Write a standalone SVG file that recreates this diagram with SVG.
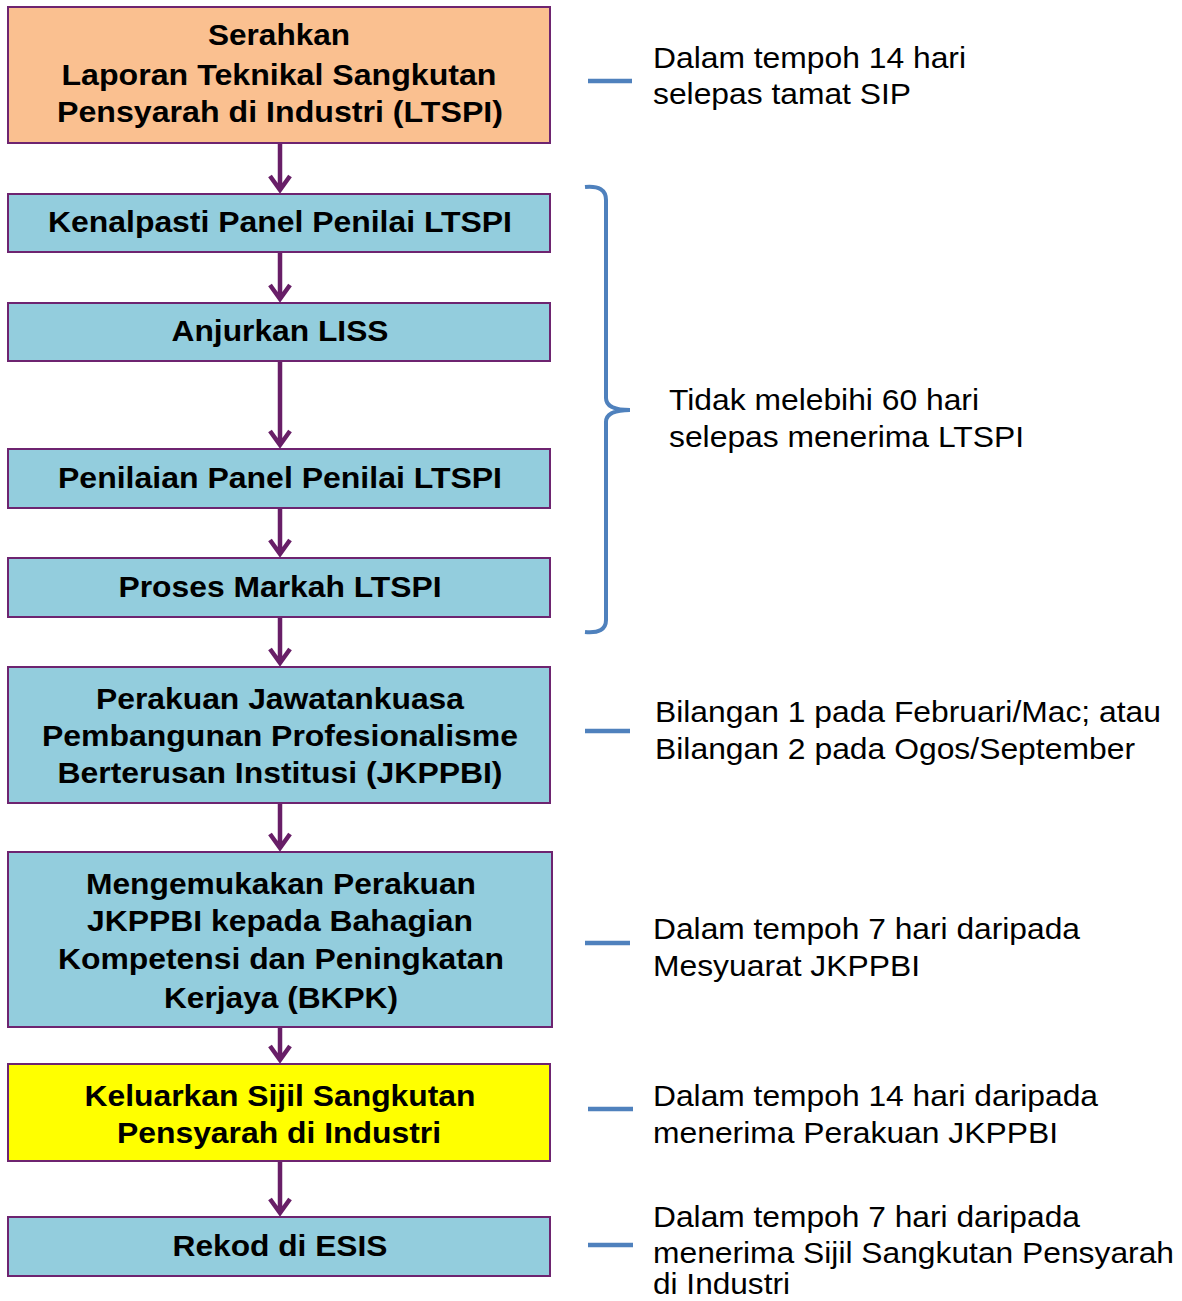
<svg xmlns="http://www.w3.org/2000/svg" width="1182" height="1301" viewBox="0 0 1182 1301">
<defs>
<style>
.box{stroke:#6E2470;stroke-width:2}
.blue{fill:#93CDDD}
.bt{font-family:"Liberation Sans",Arial,sans-serif;font-weight:bold;font-size:29px;fill:#000;text-anchor:middle}
.rt{font-family:"Liberation Sans",Arial,sans-serif;font-size:30px;fill:#000}
.arr{stroke:#681E67;stroke-width:4.5;fill:none}
.dash{stroke:#4F81BD;stroke-width:4.5}
</style>
</defs>
<rect width="1182" height="1301" fill="#fff"/>
<g id="connectors">
<path class="arr" d="M280,143 V190 M270,176 L280,190 L290,176"/>
<path class="arr" d="M280,252 V299 M270,285 L280,299 L290,285"/>
<path class="arr" d="M280,361 V445 M270,431 L280,445 L290,431"/>
<path class="arr" d="M280,508 V554 M270,540 L280,554 L290,540"/>
<path class="arr" d="M280,617 V663 M270,649 L280,663 L290,649"/>
<path class="arr" d="M280,803 V848 M270,834 L280,848 L290,834"/>
<path class="arr" d="M280,1027 V1060 M270,1046 L280,1060 L290,1046"/>
<path class="arr" d="M280,1161 V1213 M270,1199 L280,1213 L290,1199"/>
</g>
<g id="n1"><rect class="box" x="8" y="7" width="542" height="136" fill="#FAC090"/>
<text class="bt" x="279" y="45" textLength="142" lengthAdjust="spacingAndGlyphs">Serahkan</text>
<text class="bt" x="279" y="85" textLength="435" lengthAdjust="spacingAndGlyphs">Laporan Teknikal Sangkutan</text>
<text class="bt" x="280" y="122" textLength="446" lengthAdjust="spacingAndGlyphs">Pensyarah di Industri (LTSPI)</text></g>
<g id="n2"><rect class="box blue" x="8" y="194" width="542" height="58"/>
<text class="bt" x="280" y="232" textLength="464" lengthAdjust="spacingAndGlyphs">Kenalpasti Panel Penilai LTSPI</text></g>
<g id="n3"><rect class="box blue" x="8" y="303" width="542" height="58"/>
<text class="bt" x="280" y="341" textLength="217" lengthAdjust="spacingAndGlyphs">Anjurkan LISS</text></g>
<g id="n4"><rect class="box blue" x="8" y="449" width="542" height="59"/>
<text class="bt" x="280" y="488" textLength="444" lengthAdjust="spacingAndGlyphs">Penilaian Panel Penilai LTSPI</text></g>
<g id="n5"><rect class="box blue" x="8" y="558" width="542" height="59"/>
<text class="bt" x="280" y="597" textLength="323" lengthAdjust="spacingAndGlyphs">Proses Markah LTSPI</text></g>
<g id="n6"><rect class="box blue" x="8" y="667" width="542" height="136"/>
<text class="bt" x="280" y="709" textLength="368" lengthAdjust="spacingAndGlyphs">Perakuan Jawatankuasa</text>
<text class="bt" x="280" y="746" textLength="476" lengthAdjust="spacingAndGlyphs">Pembangunan Profesionalisme</text>
<text class="bt" x="280" y="783" textLength="445" lengthAdjust="spacingAndGlyphs">Berterusan Institusi (JKPPBI)</text></g>
<g id="n7"><rect class="box blue" x="8" y="852" width="544" height="175"/>
<text class="bt" x="281" y="894" textLength="390" lengthAdjust="spacingAndGlyphs">Mengemukakan Perakuan</text>
<text class="bt" x="280" y="931" textLength="386" lengthAdjust="spacingAndGlyphs">JKPPBI kepada Bahagian</text>
<text class="bt" x="281" y="969" textLength="446" lengthAdjust="spacingAndGlyphs">Kompetensi dan Peningkatan</text>
<text class="bt" x="281" y="1008" textLength="234" lengthAdjust="spacingAndGlyphs">Kerjaya (BKPK)</text></g>
<g id="n8"><rect class="box" x="8" y="1064" width="542" height="97" fill="#FFFF00"/>
<text class="bt" x="280" y="1106" textLength="391" lengthAdjust="spacingAndGlyphs">Keluarkan Sijil Sangkutan</text>
<text class="bt" x="279" y="1143" textLength="324" lengthAdjust="spacingAndGlyphs">Pensyarah di Industri</text></g>
<g id="n9"><rect class="box blue" x="8" y="1217" width="542" height="59"/>
<text class="bt" x="280" y="1256" textLength="215" lengthAdjust="spacingAndGlyphs">Rekod di ESIS</text></g>
<g id="notes">
<line class="dash" x1="588" y1="81" x2="632" y2="81"/>
<text class="rt" x="653" y="68" textLength="313" lengthAdjust="spacingAndGlyphs">Dalam tempoh 14 hari</text>
<text class="rt" x="653" y="104" textLength="258" lengthAdjust="spacingAndGlyphs">selepas tamat SIP</text>
<path d="M585,187 Q606,185 606,200 V398 Q606,410 630,410 Q606,410 606,422 V620 Q606,634 585,632" fill="none" stroke="#4F81BD" stroke-width="4"/>
<text class="rt" x="669" y="410" textLength="310" lengthAdjust="spacingAndGlyphs">Tidak melebihi 60 hari</text>
<text class="rt" x="669" y="447" textLength="355" lengthAdjust="spacingAndGlyphs">selepas menerima LTSPI</text>
<line class="dash" x1="585" y1="731" x2="630" y2="731"/>
<text class="rt" x="655" y="722" textLength="506" lengthAdjust="spacingAndGlyphs">Bilangan 1 pada Februari/Mac; atau</text>
<text class="rt" x="655" y="759" textLength="480" lengthAdjust="spacingAndGlyphs">Bilangan 2 pada Ogos/September</text>
<line class="dash" x1="585" y1="943" x2="630" y2="943"/>
<text class="rt" x="653" y="939" textLength="427" lengthAdjust="spacingAndGlyphs">Dalam tempoh 7 hari daripada</text>
<text class="rt" x="653" y="976" textLength="267" lengthAdjust="spacingAndGlyphs">Mesyuarat JKPPBI</text>
<line class="dash" x1="588" y1="1109" x2="633" y2="1109"/>
<text class="rt" x="653" y="1106" textLength="445" lengthAdjust="spacingAndGlyphs">Dalam tempoh 14 hari daripada</text>
<text class="rt" x="653" y="1143" textLength="405" lengthAdjust="spacingAndGlyphs">menerima Perakuan JKPPBI</text>
<line class="dash" x1="588" y1="1245" x2="633" y2="1245"/>
<text class="rt" x="653" y="1227" textLength="427" lengthAdjust="spacingAndGlyphs">Dalam tempoh 7 hari daripada</text>
<text class="rt" x="653" y="1263" textLength="521" lengthAdjust="spacingAndGlyphs">menerima Sijil Sangkutan Pensyarah</text>
<text class="rt" x="653" y="1294" textLength="137" lengthAdjust="spacingAndGlyphs">di Industri</text>
</g>
</svg>
